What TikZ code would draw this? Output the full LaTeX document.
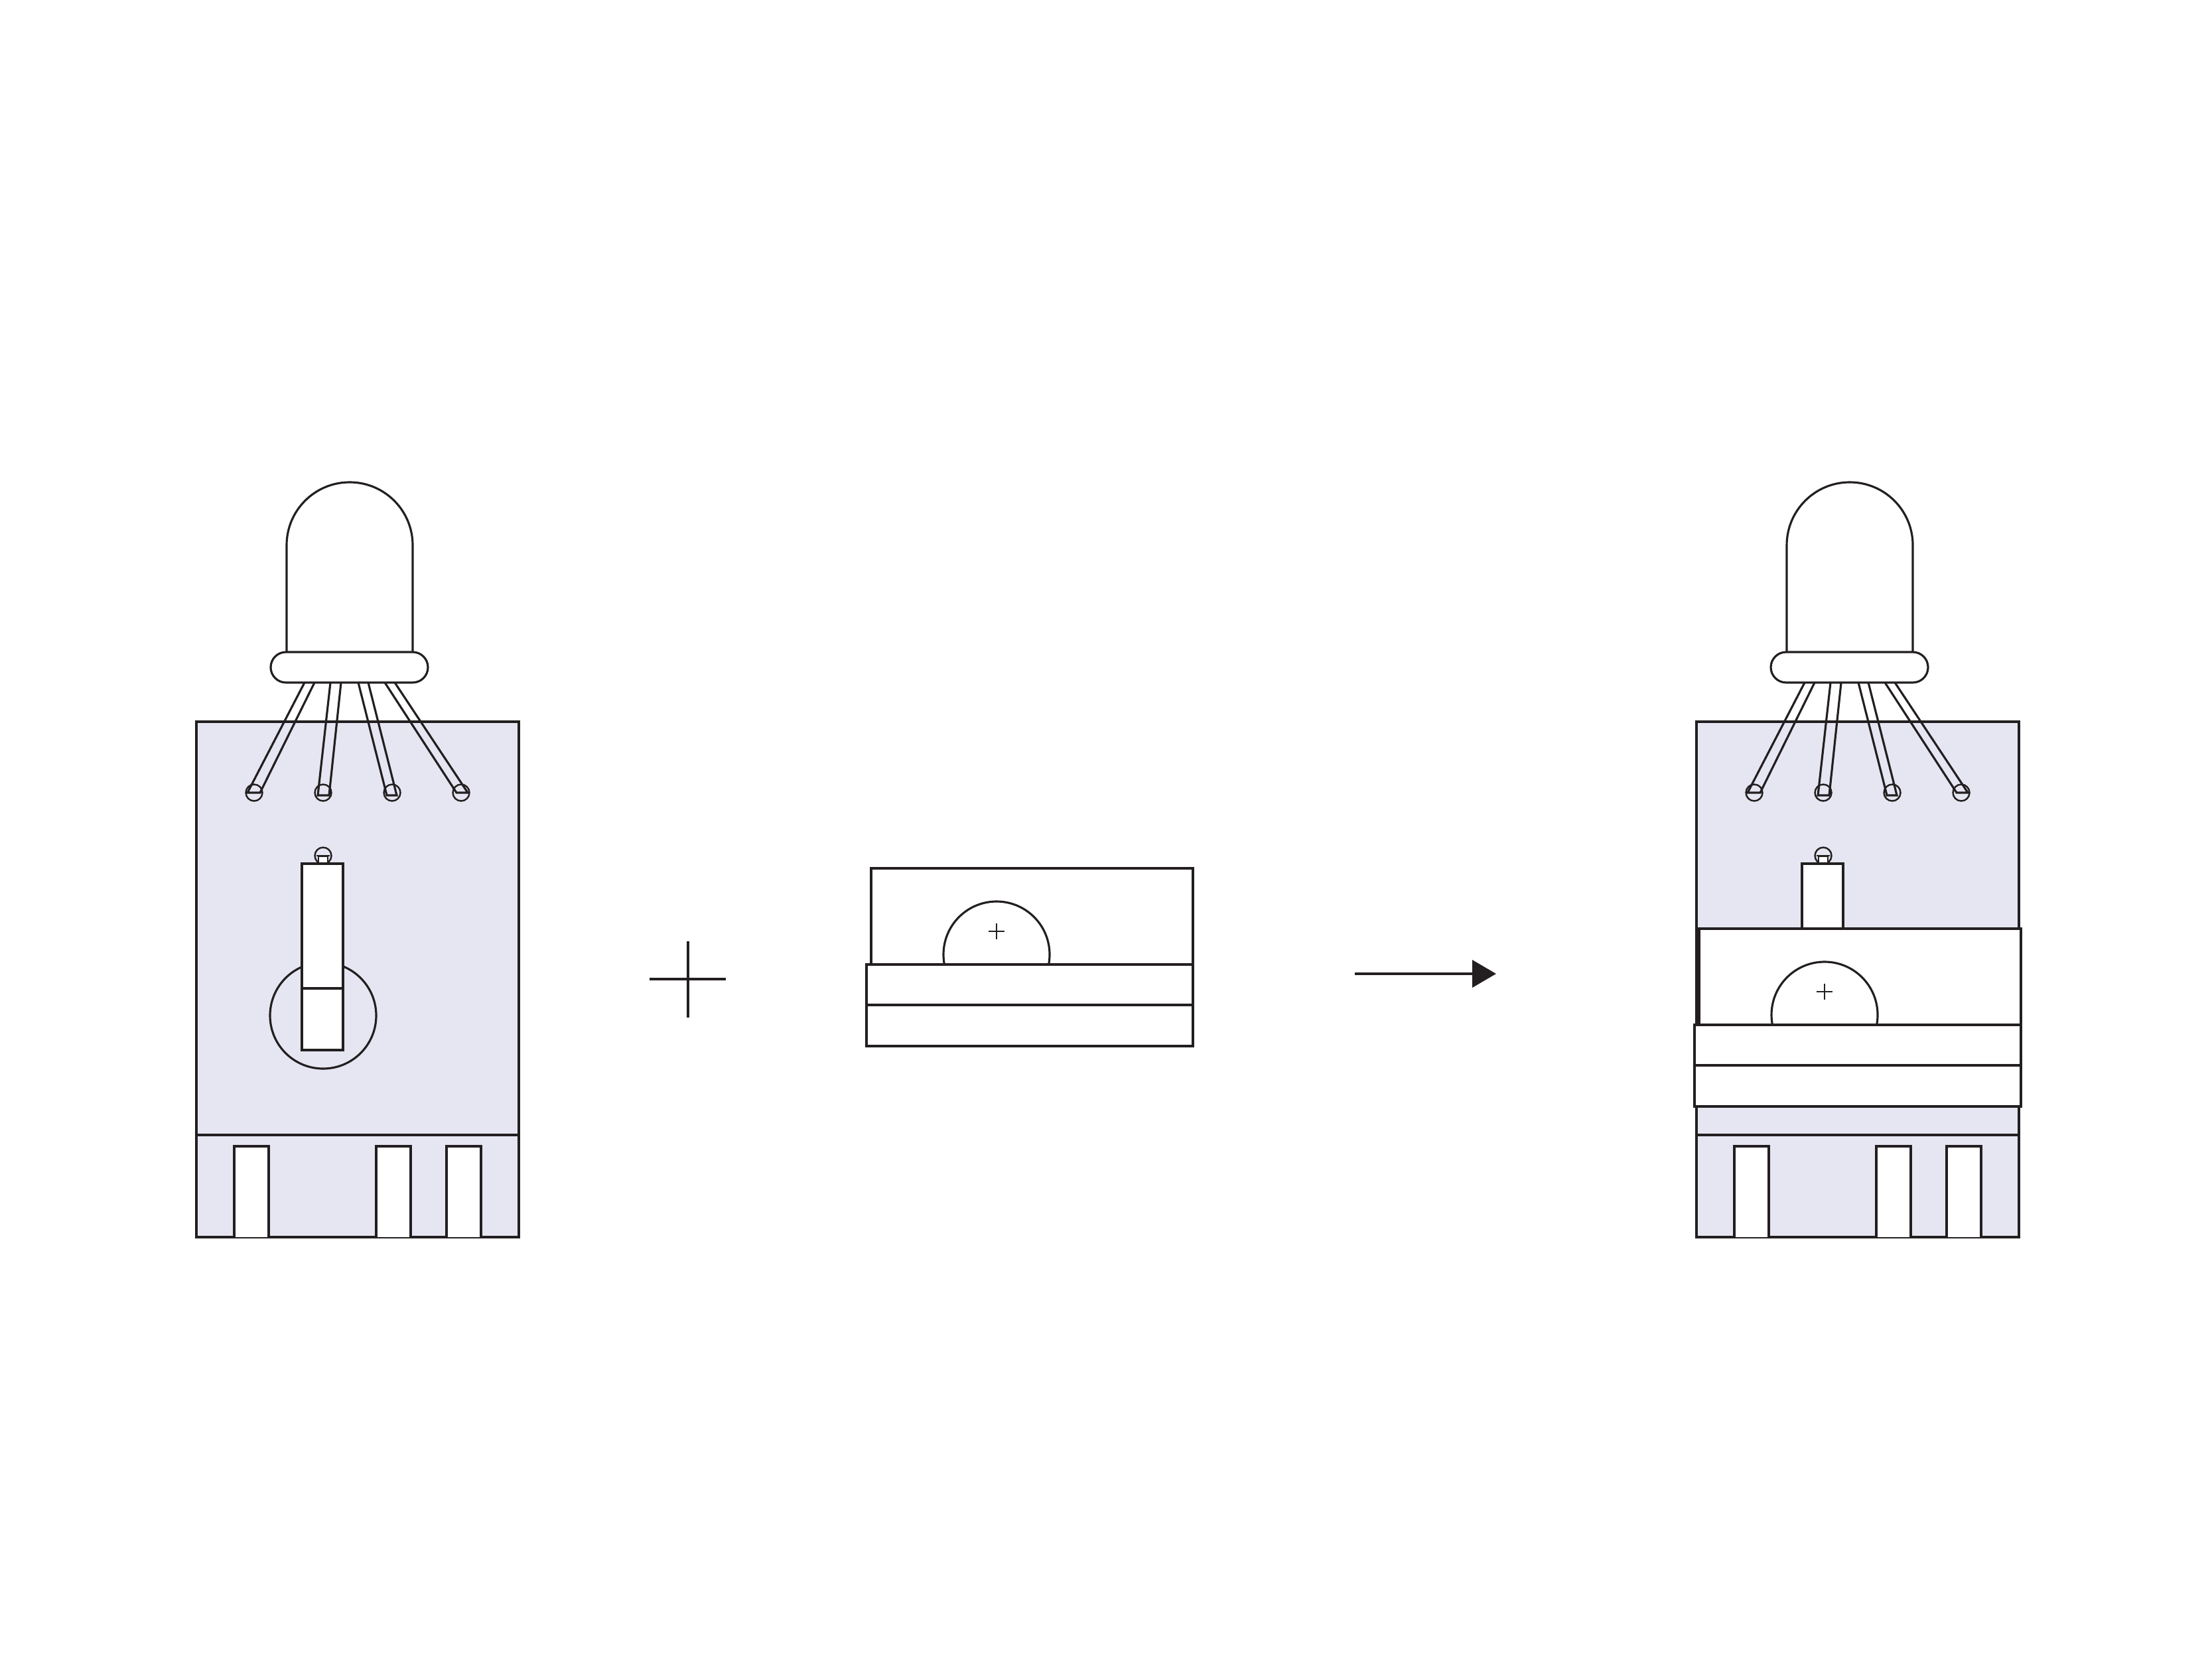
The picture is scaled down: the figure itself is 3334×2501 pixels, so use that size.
\documentclass[tikz,border=0pt]{standalone}
\usepackage{xcolor}
\definecolor{inkdark}{HTML}{231F20}
\definecolor{boardlav}{HTML}{E6E6F2}
\usepackage{tikz}
\usetikzlibrary{arrows.meta, positioning}
\tikzset{
  partline/.style ={draw=inkdark, line width=0.9pt},
  thinline/.style ={draw=inkdark, line width=0.7pt},
  boardbox/.style ={partline, fill=boardlav},
  whitebox/.style ={partline, fill=white},
  slidebox/.style ={draw=inkdark, line width=1.25pt, fill=white},
  flowarr/.style  ={-{Triangle[length=0.36cm, width=0.41cm]}, draw=inkdark, fill=inkdark, line width=1.2pt},
}

\begin{document}
\begin{tikzpicture}[x=0.01cm, y=-0.01cm]
  \useasboundingbox (0,0) rectangle (3334,2501);
  \fill[white] (0,0) rectangle (3334,2501);
  % device, left and right copy
  \foreach \ox in {0,2261} {
    \begin{scope}[shift={(\ox,0)}]
      \draw[boardbox] (296,1088) rectangle (782,1865);
      \draw[partline] (296,1711) -- (782,1711);
      \foreach \a/\b in {353/405, 567/619, 673/725} {
        \draw[whitebox] (\a,1865) -- (\a,1728) -- (\b,1728) -- (\b,1865);
      }
      % legs
      \foreach \ta/\tb/\ba/\bb/\by in {459/474/373/392/1195, 498/514/479/496/1199, 540/555/583/598/1199, 580/595/688/705/1195} {
        \draw[partline] (\ta,1029) -- (\ba,\by) -- (\bb,\by) -- (\tb,1029);
      }
      \foreach \px in {383,487,591,695} {
        \draw[thinline] (\px,1195) circle[radius=12.5];
      }
      % bulb
      \draw[whitebox] (432,983) -- (432,822) arc[start angle=180, end angle=360, radius=95] -- (622,983);
      \draw[whitebox, rounded corners=0.23cm] (408,983) rectangle (645,1029);
      % slider
      \draw[partline] (487,1531) circle[radius=80];
      \draw[thinline] (487,1290) circle[radius=12.5];
      \draw[thinline] (477,1290) -- (497,1290);
      \draw[thinline, fill=white] (480,1302) -- (480,1291) -- (494,1291) -- (494,1302);
      \draw[slidebox] (455,1302) rectangle (517,1583);
      \draw[slidebox] (455,1490) -- (517,1490);
    \end{scope}
  }
  % add-on part, alone and mounted
  \foreach \ox/\oy in {0/0,1248/91} {
    \begin{scope}[shift={(\ox,\oy)}]
      \draw[whitebox] (1313,1309) rectangle (1798,1454);
      \draw[partline] (1502,1439) circle[radius=80];
      \draw[thinline] (1490,1404) -- (1514,1404);
      \draw[thinline] (1502,1392) -- (1502,1416);
      \draw[whitebox] (1306,1454) rectangle (1798,1515);
      \draw[whitebox] (1306,1515) rectangle (1798,1577);
    \end{scope}
  }
  % plus and arrow
  \draw[partline] (979,1476) -- (1094,1476);
  \draw[partline] (1037,1419) -- (1037,1534);
  \coordinate (arrowtail) at (2042,1468);
  \coordinate (arrowhead) at (2255,1468);
  \draw[flowarr] (arrowtail) -- (arrowhead);
\end{tikzpicture}
\end{document}
